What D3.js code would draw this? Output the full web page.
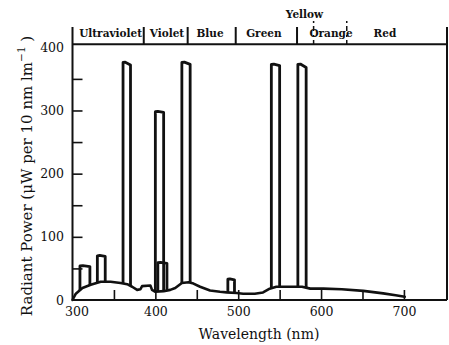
<!DOCTYPE html>
<html><head><meta charset="utf-8">
<script src="https://cdn.jsdelivr.net/npm/d3@7"></script>
<style>body{margin:0;background:#fff}svg{display:block}text{font-family:"DejaVu Serif",serif;fill:#111}</style>
</head><body>
<script>
// Continuous background spectrum (wavelength nm, radiant power)
const contWl  = [300, 304, 312, 322, 334, 346, 358, 366, 372, 378, 382, 384, 394, 396, 400, 410, 418, 424, 432, 440, 446, 454, 466, 478, 486, 498, 506, 520, 530, 538, 546, 560, 577, 587, 603, 625, 651, 675, 690, 701];
const contVal = [0,   10,  19,  24,  29,  29,  27,  25,  21,  16,  17,  22,  23,  16,  13,  14,  16,  19,  27,  28,  26,  21,  15,  13,  12,  11,  10,  10,  12,  18,  21,  21,  21,  18,  18,  17,  14.5,10.5,7.5, 5];
// Emission bands (mercury lines etc.)
const lineStart = [309, 330, 361, 400, 403, 432, 487.5, 540, 572];
const lineEnd   = [321, 339.5, 370, 410, 414, 442, 495.5, 550, 582];
const lineTopL  = [54, 70, 376, 298, 59, 376, 33, 373, 373];
const lineTopR  = [53, 69, 372, 297, 58, 373, 32, 371, 368];
// Axis ticks
const xTickLabels = [300, 400, 500, 600, 700];
const xMinorTicks = [350, 400, 450, 500, 550, 600, 650, 700];
const yTickLabels = [0, 100, 200, 300, 400];
const yMinorTicks = [50, 100, 150, 200, 250, 300, 350];
// Colour band strip
const bandEdges   = [300, 386, 439, 497, 571, 752];
const bandDotted  = [591, 631];
const bandNames   = ["Ultraviolet", "Violet", "Blue", "Green", "Orange", "Red"];
const bandCenters = [346, 414, 466, 531, 612, 677];
const yellowLabel = "Yellow", yellowCenter = 580;

(function () {
const W = 449, H = 345;
const svg = d3.select("body").append("svg").attr("width", W).attr("height", H);
const x = d3.scaleLinear().domain([300, 752]).range([72.5, 447]);
const y = d3.scaleLinear().domain([0, 400]).range([300, 47.3]);
const cont = d3.scaleLinear().domain(contWl).range(contVal);

// frame
const yTop = y(405), yBot = y(0), xL = x(300), xR = x(752);
const frame = svg.append("g").attr("stroke", "#111").attr("stroke-width", 2).attr("fill", "none");
frame.append("line").attr("x1", xL).attr("x2", xR).attr("y1", yTop).attr("y2", yTop);
frame.append("line").attr("x1", xL).attr("x2", xR).attr("y1", yBot).attr("y2", yBot);

// band separators
const band = svg.append("g");
band.selectAll("line.sep").data(bandEdges).join("line").attr("class", "sep")
  .attr("x1", d => x(d)).attr("x2", d => x(d)).attr("y1", 27).attr("y2", d => (d === 300 || d === 752) ? yBot : yTop)
  .attr("stroke", "#111").attr("stroke-width", 2);
band.selectAll("line.dot").data(bandDotted).join("line").attr("class", "dot")
  .attr("x1", d => x(d)).attr("x2", d => x(d)).attr("y1", 21).attr("y2", yTop)
  .attr("stroke", "#111").attr("stroke-width", 1.5).attr("stroke-dasharray", "2,3,5,4");
band.selectAll("text.bn").data(bandNames).join("text").attr("class", "bn")
  .attr("x", (d, i) => x(bandCenters[i])).attr("y", 37).attr("text-anchor", "middle")
  .attr("font-size", 10.5).attr("font-weight", "bold").text(d => d);
band.append("text").attr("x", x(yellowCenter)).attr("y", 18).attr("text-anchor", "middle")
  .attr("font-size", 10.5).attr("font-weight", "bold").text(yellowLabel);

// axes
const gl = svg.append("g").attr("transform", `translate(${xL},0)`)
  .call(d3.axisLeft(y).tickValues(yTickLabels).tickSize(0).tickPadding(8.5));
gl.select(".domain").remove();
gl.selectAll("text").attr("font-family", "DejaVu Serif").attr("font-size", 12.5).attr("fill", "#111");
const gli = svg.append("g").attr("transform", `translate(${xL},0)`)
  .call(d3.axisRight(y).tickValues(yMinorTicks).tickSize(10).tickFormat(""));
gli.select(".domain").remove();
gli.selectAll("line").attr("stroke", "#111").attr("stroke-width", 1.6);

const gb = svg.append("g").attr("transform", `translate(0,${yBot})`)
  .call(d3.axisBottom(x).tickValues(xTickLabels).tickSize(0).tickPadding(7));
gb.select(".domain").remove();
gb.selectAll("text").attr("font-family", "DejaVu Serif").attr("font-size", 12.5).attr("fill", "#111");
gb.selectAll("text").filter(d => d === 300).attr("dx", 4);
const gbi = svg.append("g").attr("transform", `translate(0,${yBot})`)
  .call(d3.axisTop(x).tickValues(xMinorTicks).tickSize(10).tickFormat(""));
gbi.select(".domain").remove();
gbi.selectAll("line").attr("stroke", "#111").attr("stroke-width", 1.6);

// axis titles
svg.append("text").attr("x", 259).attr("y", 339).attr("text-anchor", "middle")
  .attr("font-size", 14).text("Wavelength (nm)");
const yl = svg.append("text").attr("transform", "translate(31.5,176) rotate(-90)")
  .attr("text-anchor", "middle").attr("font-size", 15);
yl.append("tspan").text("Radiant Power  (\u03BCW per 10 nm lm");
yl.append("tspan").attr("dy", -6.5).attr("font-size", 10.5).text("\u22121");
yl.append("tspan").attr("dy", 6.5).text(" )");

// spectrum continuum
const line = d3.line().x(d => x(d[0])).y(d => y(d[1]));
svg.append("path").datum(contWl.map((w, i) => [w, contVal[i]]))
  .attr("d", line).attr("fill", "none").attr("stroke", "#111").attr("stroke-width", 2.6)
  .attr("stroke-linejoin", "round").attr("stroke-linecap", "round");

// emission lines (open rectangles standing on the continuum)
svg.selectAll("path.em").data(lineStart).join("path").attr("class", "em")
  .attr("d", (s, i) => {
    const e = lineEnd[i];
    return line([[s, cont(s)], [s, lineTopL[i]], [s + (e - s) * 0.3, lineTopL[i] + 0.5], [e, lineTopR[i]], [e, cont(e)]]);
  })
  .attr("fill", "none").attr("stroke", "#111").attr("stroke-width", 2.8)
  .attr("stroke-linejoin", "round");
})();
</script>
</body></html>
